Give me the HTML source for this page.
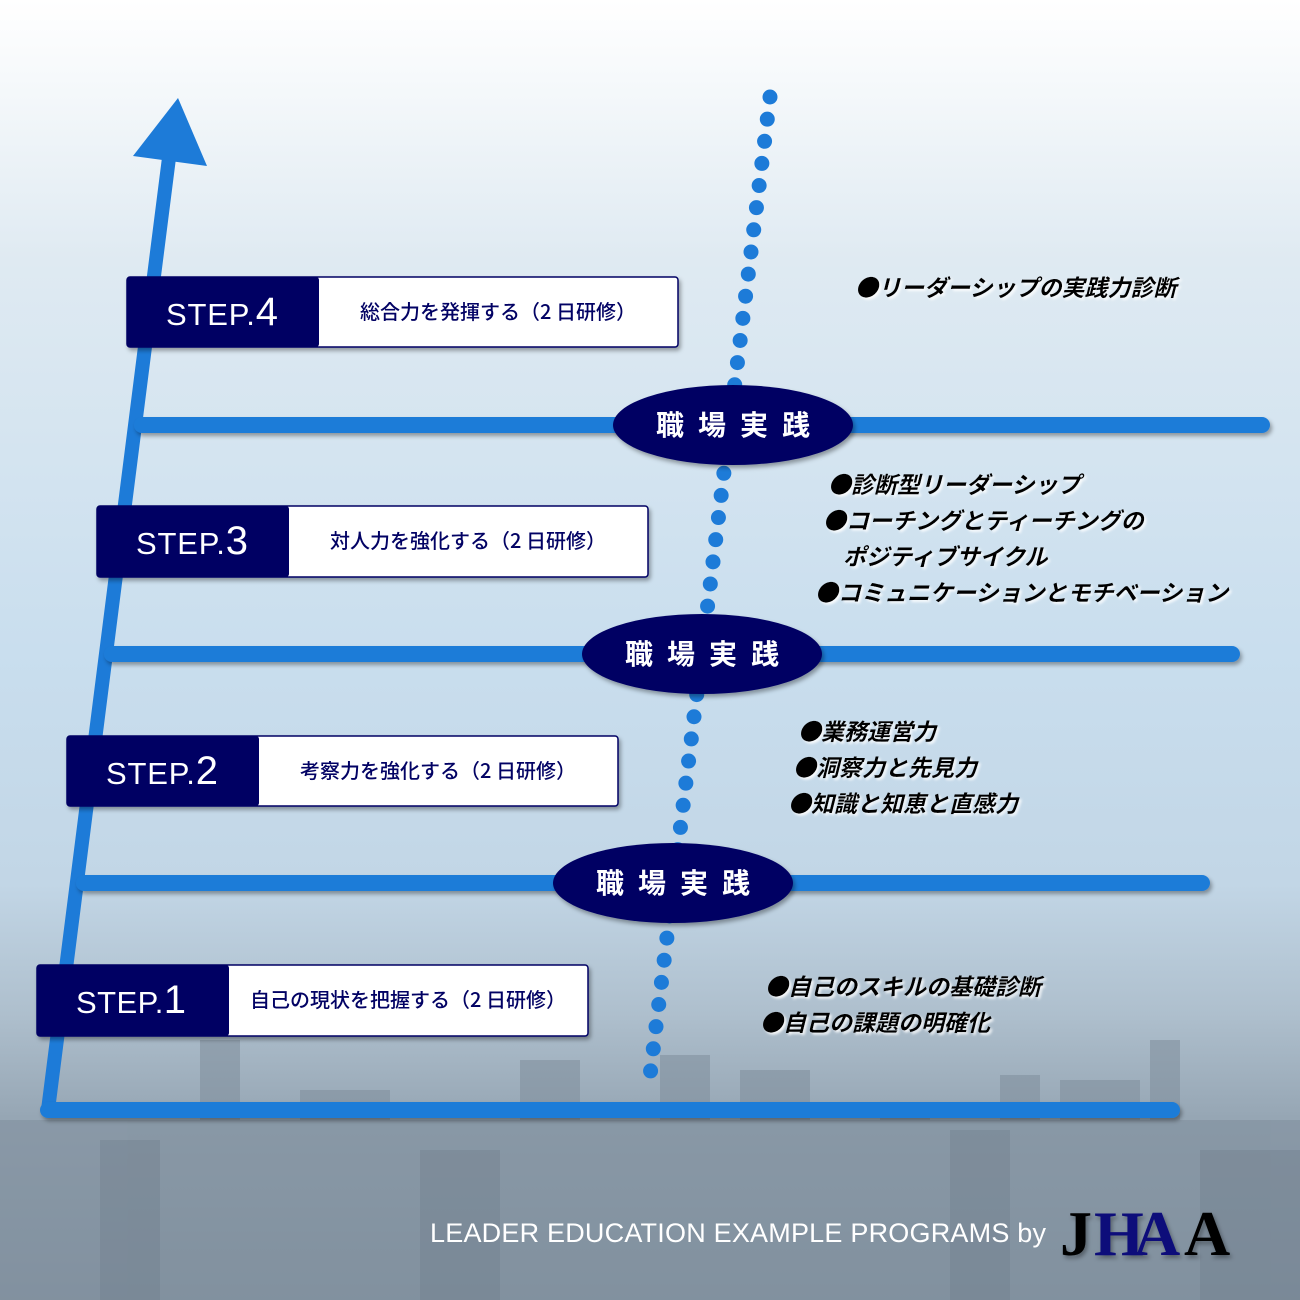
<!DOCTYPE html>
<html><head><meta charset="utf-8"><style>
html,body{margin:0;padding:0;width:1300px;height:1300px;overflow:hidden}
svg{display:block}
.jp{font-family:"Noto Sans CJK JP","Liberation Sans",sans-serif}
</style></head><body>
<svg width="1300" height="1300" viewBox="0 0 1300 1300" xmlns="http://www.w3.org/2000/svg">
<defs>
<linearGradient id="bg" x1="0" y1="0" x2="0" y2="1">
<stop offset="0" stop-color="#ffffff"/>
<stop offset="0.06" stop-color="#f6f9fb"/>
<stop offset="0.2" stop-color="#dfeaf2"/>
<stop offset="0.5" stop-color="#c9deee"/>
<stop offset="0.68" stop-color="#c2d6e6"/>
<stop offset="0.78" stop-color="#aebfcd"/>
<stop offset="0.86" stop-color="#96a6b4"/>
<stop offset="1" stop-color="#8595a3"/>
</linearGradient>
<filter id="sh" x="-10%" y="-10%" width="130%" height="140%"><feDropShadow dx="2" dy="3" stdDeviation="2" flood-color="#000" flood-opacity="0.35"/></filter>
<filter id="tsh"><feDropShadow dx="2" dy="2" stdDeviation="1.2" flood-color="#fff" flood-opacity="0.9"/></filter>
</defs>
<rect width="1300" height="1300" fill="url(#bg)"/>
<g fill="#7f8e9c" opacity="0.55">
<rect x="200" y="1040" width="40" height="260"/><rect x="520" y="1060" width="60" height="240"/>
<rect x="660" y="1055" width="50" height="245"/><rect x="740" y="1070" width="70" height="230"/>
<rect x="880" y="1110" width="50" height="190"/><rect x="1000" y="1075" width="40" height="225"/>
<rect x="1150" y="1040" width="30" height="260"/><rect x="0" y="1120" width="1300" height="180"/>
<rect x="1060" y="1080" width="80" height="220"/><rect x="300" y="1090" width="90" height="210"/>
</g>
<g fill="#6d7c8a" opacity="0.35">
<rect x="100" y="1140" width="60" height="160"/><rect x="420" y="1150" width="80" height="150"/>
<rect x="950" y="1130" width="60" height="170"/><rect x="1200" y="1150" width="100" height="150"/>
</g>
<g fill="none" stroke="#1d7bd8" stroke-width="14" stroke-linecap="round">
<line x1="48" y1="1110" x2="170" y2="150"/>
</g>
<polygon points="133,156 178,98 207,166" fill="#1d7bd8"/>
<g stroke="#1d7bd8" stroke-width="16" stroke-linecap="round" filter="url(#sh)">
<line x1="48" y1="1110" x2="1172" y2="1110"/>
<line x1="142" y1="425" x2="1262" y2="425"/>
<line x1="112" y1="654" x2="1232" y2="654"/>
<line x1="84" y1="883" x2="1202" y2="883"/>
</g>
<line x1="770" y1="97" x2="648" y2="1092" stroke="#1d7bd8" stroke-width="15" stroke-linecap="round" stroke-dasharray="0 22.3"/>
<g filter="url(#sh)" fill="#020264">
<ellipse cx="733" cy="425" rx="120" ry="40"/>
<ellipse cx="702" cy="654" rx="120" ry="40"/>
<ellipse cx="673" cy="883" rx="120" ry="40"/>
</g>
<g class="jp" fill="#fff" font-size="28" font-weight="bold" text-anchor="middle" letter-spacing="14">
<text x="740" y="435">職場実践</text>
<text x="709" y="664">職場実践</text>
<text x="680" y="893">職場実践</text>
</g>
<g filter="url(#sh)">
<rect x="127" y="277" width="551" height="70" rx="3" fill="#fff" stroke="#020264" stroke-width="1.5"/>
<rect x="127" y="277" width="192" height="70" rx="3" fill="#020264"/>
<rect x="97" y="506" width="551" height="71" rx="3" fill="#fff" stroke="#020264" stroke-width="1.5"/>
<rect x="97" y="506" width="192" height="71" rx="3" fill="#020264"/>
<rect x="67" y="736" width="551" height="70" rx="3" fill="#fff" stroke="#020264" stroke-width="1.5"/>
<rect x="67" y="736" width="192" height="70" rx="3" fill="#020264"/>
<rect x="37" y="965" width="551" height="71" rx="3" fill="#fff" stroke="#020264" stroke-width="1.5"/>
<rect x="37" y="965" width="192" height="71" rx="3" fill="#020264"/>
</g>
<g font-family="Liberation Sans, sans-serif" fill="#fff" font-size="31">
<text x="166" y="325" textLength="112">STEP.<tspan font-size="40">4</tspan></text>
<text x="136" y="554" textLength="112">STEP.<tspan font-size="40">3</tspan></text>
<text x="106" y="784" textLength="112">STEP.<tspan font-size="40">2</tspan></text>
<text x="76" y="1013" textLength="110">STEP.<tspan font-size="40">1</tspan></text>
</g>
<g class="jp" fill="#020264" font-size="20" font-weight="500" text-anchor="middle">
<text x="498" y="319">総合力を発揮する（2 日研修）</text>
<text x="468" y="548">対人力を強化する（2 日研修）</text>
<text x="438" y="778">考察力を強化する（2 日研修）</text>
<text x="408" y="1007">自己の現状を把握する（2 日研修）</text>
</g>
<g class="jp" fill="#000" font-size="23" font-style="italic" font-weight="bold" filter="url(#tsh)">
<text x="855" y="296">●リーダーシップの実践力診断</text>
<text x="828" y="493">●診断型リーダーシップ</text>
<text x="823" y="529">●コーチングとティーチングの</text>
<text x="843" y="565">ポジティブサイクル</text>
<text x="815" y="601">●コミュニケーションとモチベーション</text>
<text x="798" y="740">●業務運営力</text>
<text x="793" y="776">●洞察力と先見力</text>
<text x="788" y="812">●知識と知恵と直感力</text>
<text x="765" y="995">●自己のスキルの基礎診断</text>
<text x="760" y="1031">●自己の課題の明確化</text>
</g>
<text x="430" y="1242" font-family="Liberation Sans, sans-serif" font-size="27" fill="#fff" textLength="616">LEADER EDUCATION EXAMPLE PROGRAMS by</text>
<g font-family="Liberation Serif, serif" font-weight="bold" font-size="64" filter="url(#sh)">
<text x="1060" y="1255" fill="#000">J</text>
<text x="1094" y="1255" fill="#0a0a7a">H</text>
<text x="1134" y="1255" fill="#0a0a7a">A</text>
<text x="1184" y="1255" fill="#000">A</text>
</g>
</svg>
</body></html>
